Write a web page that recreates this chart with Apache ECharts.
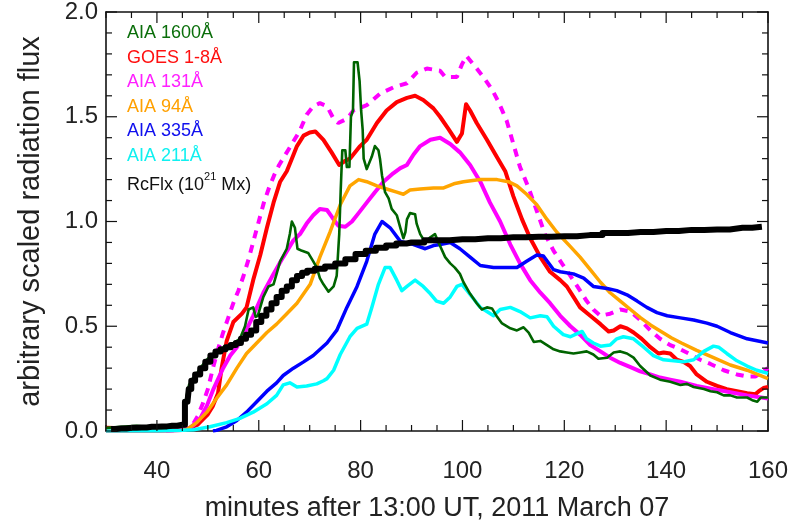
<!DOCTYPE html>
<html>
<head>
<meta charset="utf-8">
<script src="https://cdn.jsdelivr.net/npm/echarts@6/dist/echarts.min.js"></script>
<style>
  html, body { margin: 0; padding: 0; background: #fff; }
  #chart { width: 791px; height: 527px; }
</style>
</head>
<body>
<div id="chart"></div>
<script>
// Light curves of the 2011 March 07 flare, minutes after 13:00 UT vs scaled flux.

const xRange = [30, 160];
const xMajorStart = 40;      // first labelled minute
const xMajorStep = 20;
const xMinorStep = 5;
const yRange = [0, 2];

// frame tick positions (minutes / flux units)
const xTickValues = [30, 35, 40, 45, 50, 55, 60, 65, 70, 75, 80, 85, 90, 95, 100, 105, 110, 115, 120, 125, 130, 135, 140, 145, 150, 155, 160];
const xMajorTicks = [40, 60, 80, 100, 120, 140, 160];
const yTickValues = [0, 0.1, 0.2, 0.3, 0.4, 0.5, 0.6, 0.7, 0.8, 0.9, 1.0, 1.1, 1.2, 1.3, 1.4, 1.5, 1.6, 1.7, 1.8, 1.9, 2.0];
const yMajorTicks = [0, 0.5, 1.0, 1.5, 2.0];

// AIA 1600 Å (stepped, spiky)
const aia1600 = [[30,0.015],[33,0.02],[36,0.025],[38,0.02],[41,0.015],[44,0.02],[45.2,0.025],[45.6,0.14],[46.3,0.22],[47,0.25],[47.5,0.26],[48.5,0.30],[49.8,0.34],[51.1,0.37],[52.1,0.38],[53.7,0.40],[55,0.42],[56.3,0.44],[56.8,0.47],[57.3,0.50],[58,0.58],[58.9,0.59],[59.4,0.545],[59.8,0.55],[60.9,0.64],[61.9,0.69],[62.9,0.70],[63.5,0.75],[64.2,0.81],[65.5,0.87],[66.1,0.94],[66.5,1.0],[67.1,0.97],[67.6,0.87],[68.5,0.86],[69.7,0.85],[70.7,0.81],[71.4,0.78],[72,0.73],[72.7,0.70],[73.7,0.665],[74.7,0.69],[75.3,0.74],[75.8,0.94],[76.1,1.155],[76.4,1.34],[77,1.34],[77.3,1.26],[77.8,1.26],[78.1,1.50],[78.5,1.53],[78.7,1.76],[79.4,1.76],[79.8,1.67],[80.1,1.53],[80.4,1.44],[80.6,1.30],[81.2,1.25],[82.2,1.31],[82.8,1.36],[83.5,1.34],[83.8,1.30],[84.2,1.22],[84.8,1.14],[85.5,1.11],[86.1,1.06],[87.1,1.03],[87.8,0.97],[88.4,0.92],[88.8,0.95],[89.1,1.01],[89.7,1.04],[90.7,1.035],[91,0.99],[91.7,0.94],[92.7,0.90],[93.7,0.925],[94.6,0.94],[95.3,0.90],[96.6,0.83],[97.6,0.80],[98.5,0.78],[99.5,0.75],[100.2,0.71],[101.5,0.655],[102.8,0.61],[103.8,0.58],[104.8,0.59],[105.8,0.585],[106.8,0.545],[107.7,0.515],[109.4,0.49],[110.7,0.48],[112,0.495],[113,0.47],[114,0.425],[115.3,0.43],[116.6,0.41],[117.9,0.39],[119.2,0.38],[120.5,0.375],[121.8,0.37],[123.1,0.375],[124.4,0.38],[125.7,0.365],[126.7,0.345],[128.4,0.35],[129.7,0.375],[131,0.38],[132.3,0.37],[133.6,0.35],[134.9,0.31],[136.9,0.265],[138.8,0.245],[140.8,0.235],[142.8,0.22],[144.1,0.225],[145.4,0.21],[147.4,0.20],[148.7,0.19],[150,0.185],[151.3,0.17],[152.6,0.17],[153.9,0.16],[155.9,0.16],[156.9,0.147],[157.9,0.14],[158.6,0.16],[160,0.16]];

// GOES 1-8 Å
const goes18 = [[30,0.015],[35,0.012],[40,0.01],[44,0.008],[46,0.01],[48,0.03],[50,0.08],[51,0.12],[52,0.18],[52.7,0.3],[53.7,0.43],[55,0.52],[56.7,0.56],[57.6,0.59],[58.9,0.72],[60.3,0.84],[61.6,0.97],[62.9,1.09],[64.2,1.19],[65.5,1.24],[66.5,1.30],[67.5,1.36],[68.8,1.41],[70,1.425],[71.1,1.43],[72.7,1.39],[74.3,1.33],[75.8,1.27],[77,1.29],[77.9,1.30],[79.9,1.36],[81.2,1.39],[83.2,1.47],[85.1,1.53],[87.1,1.57],[89.1,1.59],[90.7,1.60],[92.3,1.58],[94.3,1.54],[95.6,1.50],[97.3,1.44],[98.9,1.38],[99.9,1.42],[100.7,1.56],[101.5,1.53],[102.8,1.47],[104.8,1.39],[106.7,1.31],[108.4,1.24],[110,1.12],[111.7,1.01],[113.3,0.92],[115.3,0.83],[117.2,0.76],[119.2,0.72],[120.5,0.69],[121.8,0.64],[123.1,0.59],[125.1,0.55],[127.1,0.51],[128.7,0.475],[129.7,0.48],[131,0.50],[132.3,0.49],[133.6,0.47],[135.2,0.44],[136.9,0.40],[138.5,0.37],[139.5,0.375],[140.8,0.37],[142.1,0.34],[143.4,0.33],[144.7,0.31],[146,0.27],[148,0.235],[150,0.215],[151.9,0.20],[153.9,0.19],[155.9,0.18],[157.5,0.175],[158.2,0.19],[159.1,0.205],[160,0.21]];

// AIA 131 Å
const aia131 = [[30,0.0],[40,0.0],[45,0.005],[46.5,0.015],[47.5,0.035],[48.5,0.06],[49.8,0.12],[51.1,0.2],[53,0.3],[54.4,0.36],[55.7,0.40],[57.3,0.47],[58.9,0.55],[60.9,0.66],[62.9,0.75],[64.8,0.83],[66.8,0.91],[68.1,0.94],[69.4,0.99],[70.7,1.03],[72,1.06],[73.4,1.055],[74.7,1.01],[75.6,0.98],[77,0.975],[78.3,1.0],[79.6,1.04],[81.2,1.09],[82.8,1.14],[84.5,1.19],[86.4,1.23],[87.8,1.255],[89.1,1.27],[90.4,1.32],[91.7,1.36],[93.7,1.39],[95.6,1.40],[97.6,1.37],[99.5,1.33],[101.5,1.27],[103.5,1.19],[105.4,1.09],[107.4,1.0],[109.4,0.89],[111.3,0.80],[113.3,0.72],[115.3,0.66],[117.2,0.61],[119.2,0.55],[121.2,0.50],[123.1,0.46],[125.1,0.41],[127.1,0.38],[129,0.35],[131,0.325],[133,0.305],[134.9,0.285],[136.9,0.27],[138.8,0.255],[140.8,0.245],[142.8,0.235],[146,0.215],[149.3,0.20],[152.6,0.185],[155.9,0.17],[160,0.155]];

// AIA 131 Å, second scaling (dashed)
const aia131b = [[30,0.0],[40,0.0],[45,0.005],[46,0.01],[47,0.03],[48,0.07],[49,0.13],[50,0.2],[51,0.3],[52,0.39],[53,0.47],[54,0.54],[55,0.61],[56,0.67],[57,0.74],[58,0.82],[59,0.91],[60,1.0],[61,1.09],[62,1.16],[63,1.22],[64,1.27],[65,1.31],[66,1.35],[67,1.39],[68,1.43],[69.4,1.51],[70.7,1.55],[72,1.565],[73.4,1.55],[74.7,1.49],[75.6,1.47],[77.3,1.49],[78.6,1.53],[81.2,1.555],[83.8,1.61],[86.4,1.64],[89.1,1.66],[91,1.71],[93,1.73],[95.6,1.72],[96.6,1.69],[98.9,1.69],[99.9,1.75],[100.8,1.79],[102.8,1.73],[104.1,1.69],[105.8,1.63],[107.1,1.57],[108.7,1.48],[110,1.37],[111.3,1.26],[113,1.16],[114.6,1.05],[116.2,0.94],[117.9,0.86],[119.8,0.79],[121.2,0.74],[123.1,0.67],[124.4,0.62],[125.7,0.58],[127.1,0.55],[129,0.56],[131,0.58],[133,0.57],[134.9,0.53],[136.9,0.48],[138.8,0.44],[140.8,0.41],[142.8,0.39],[144.4,0.37],[146.7,0.34],[148.7,0.32],[151.3,0.29],[153.9,0.27],[155.9,0.26],[157.5,0.26],[158.8,0.28],[160,0.30]];

// AIA 94 Å
const aia94 = [[30,0.0],[40,0.0],[45,0.004],[45.9,0.008],[47.8,0.04],[49.8,0.09],[51.7,0.155],[53.7,0.22],[55.7,0.30],[57.6,0.37],[59.6,0.42],[61.6,0.47],[63.5,0.51],[65.5,0.56],[67.5,0.61],[68.8,0.655],[70.1,0.70],[72,0.83],[74,0.95],[76,1.08],[77.9,1.17],[79.6,1.20],[81.2,1.19],[83.2,1.17],[85.1,1.155],[87.1,1.14],[88.4,1.13],[89.7,1.15],[91.7,1.155],[94.3,1.16],[96.3,1.16],[98.3,1.18],[100.2,1.19],[103.5,1.20],[106.8,1.20],[109,1.19],[110.7,1.17],[112.6,1.13],[114.6,1.08],[116.6,1.01],[118.5,0.95],[121.2,0.88],[123.1,0.83],[125.1,0.77],[127.1,0.71],[129,0.66],[131,0.62],[133,0.58],[135,0.54],[137,0.505],[139,0.475],[141,0.445],[143,0.42],[146,0.385],[149.3,0.35],[152.6,0.315],[155.9,0.29],[160,0.25]];

// AIA 335 Å
const aia335 = [[51,0.0],[51.7,0.003],[53.7,0.02],[55.7,0.05],[57.6,0.09],[59.6,0.14],[61.6,0.19],[63.5,0.23],[64.8,0.265],[66.8,0.30],[68.8,0.33],[70.7,0.36],[73.4,0.42],[75.3,0.48],[77.3,0.59],[79.3,0.69],[81.2,0.81],[82.8,0.94],[84.2,1.0],[85.8,0.97],[87.8,0.905],[90.4,0.89],[92.7,0.87],[94.3,0.885],[95.6,0.89],[97.6,0.90],[99.5,0.87],[101.5,0.83],[103.5,0.79],[106.1,0.78],[108.7,0.78],[110.7,0.78],[112.6,0.81],[114.6,0.84],[115.9,0.835],[117.9,0.77],[119.2,0.76],[121.8,0.75],[123.8,0.73],[125.7,0.69],[128.4,0.68],[130.3,0.67],[132.3,0.65],[134.3,0.62],[136.2,0.59],[138.2,0.565],[140.2,0.55],[142.8,0.54],[145.4,0.53],[148,0.515],[150,0.50],[152.6,0.47],[155.9,0.44],[160,0.42]];

// AIA 211 Å
const aia211 = [[30,0.0],[40,0.0],[45,0.003],[47.2,0.006],[50.4,0.02],[53.7,0.04],[56.3,0.06],[58.9,0.09],[61.6,0.13],[63.5,0.17],[64.8,0.22],[66.1,0.23],[67.5,0.21],[69.4,0.215],[71.4,0.225],[72.7,0.24],[73.4,0.25],[74.7,0.29],[76,0.365],[77.9,0.45],[79.3,0.49],[81.2,0.51],[82.2,0.59],[83.5,0.70],[84.8,0.78],[85.8,0.78],[87.1,0.72],[88.1,0.67],[89.1,0.69],[90.7,0.72],[92.3,0.69],[93.7,0.655],[94.9,0.62],[96.3,0.61],[97.6,0.64],[98.9,0.69],[99.9,0.70],[100.9,0.67],[102.2,0.63],[103.5,0.59],[104.8,0.57],[106.1,0.55],[107.4,0.58],[109.4,0.59],[111.3,0.57],[113.3,0.54],[115.3,0.55],[116.6,0.545],[117.9,0.50],[119.8,0.46],[121.2,0.45],[122.5,0.465],[123.5,0.475],[124.4,0.44],[125.7,0.42],[127.1,0.405],[129,0.41],[130.3,0.44],[131.6,0.45],[133.6,0.44],[135.6,0.40],[137.5,0.36],[139.5,0.34],[141.5,0.335],[143.4,0.33],[145.4,0.34],[147.4,0.38],[149.3,0.405],[150.3,0.40],[151.9,0.37],[153.9,0.335],[155.9,0.31],[157.8,0.29],[160,0.275]];

// Reconnection flux, 10^21 Mx (stepped)
const rcFlx = [[31,0.01],[33,0.012],[35,0.015],[37,0.017],[39,0.02],[41,0.022],[43,0.025],[45,0.03],[46,0.14],[46.5,0.2],[47,0.24],[48,0.27],[49,0.3],[50,0.33],[51,0.36],[52,0.38],[53,0.39],[54,0.40],[55,0.41],[56,0.42],[57,0.44],[58,0.46],[59,0.48],[60,0.52],[61,0.55],[62,0.58],[63,0.61],[64,0.64],[65,0.67],[66,0.69],[67,0.72],[68,0.74],[69,0.755],[70,0.765],[72,0.775],[74,0.785],[76,0.80],[78,0.82],[80,0.845],[82,0.86],[84,0.875],[86,0.885],[88,0.895],[90,0.90],[95,0.91],[100,0.915],[105,0.92],[110,0.925],[115,0.927],[120,0.93],[125,0.935],[130,0.945],[135,0.95],[140,0.955],[145,0.96],[150,0.962],[155,0.97],[158.8,0.975]];

const legendNames = ['AIA 1600Å', 'GOES 1-8Å', 'AIA 131Å', 'AIA 94Å', 'AIA 335Å', 'AIA 211Å', 'RcFlx'];
const legendColors = ['#0a6e0a', '#ff1010', '#ff20ff', '#ffa000', '#1010ee', '#10f0f0', '#111111'];

const FONT = '"Liberation Sans", Arial, Helvetica, sans-serif';
const AXIS_COLOR = '#111111';
const W = 791, H = 527;
const plot = { left: 106, right: 23, top: 7, bottom: 94 };
// the labelled 20-minute axis lives in a second grid that starts at minute 40
const plotWidth = W - plot.left - plot.right;
const majorLeft = plot.left + plotWidth * (xMajorStart - xRange[0]) / (xRange[1] - xRange[0]);

const chart = echarts.init(document.getElementById('chart'));

function lineSeries(name, data, color, width, extra) {
  return Object.assign({
    name: name,
    type: 'line',
    data: data,
    showSymbol: false,
    symbol: 'none',
    clip: true,
    lineStyle: { color: color, width: width, join: 'round' },
    emphasis: { disabled: true },
    xAxisIndex: 0,
    yAxisIndex: 0
  }, extra || {});
}

// inward tick marks on all four sides of the frame, placed through the axis scales
const tickStyle = { stroke: AXIS_COLOR, lineWidth: 1.2 };
function tickLine(x1, y1, x2, y2) {
  return { type: 'line', shape: { x1: x1, y1: y1, x2: x2, y2: y2 }, style: tickStyle };
}
const xTickSeries = {
  type: 'custom', name: 'x ticks', xAxisIndex: 0, yAxisIndex: 0, clip: false, silent: true, z: 20,
  encode: { x: 0, y: 1 },
  data: xTickValues.map(function (t) { return [t, yRange[0], xMajorTicks.indexOf(t) >= 0 ? 1 : 0]; }),
  renderItem: function (params, api) {
    const t = api.value(0);
    const len = api.value(2) === 1 ? 11 : 6;
    const pb = api.coord([t, yRange[0]]);
    const pt = api.coord([t, yRange[1]]);
    return { type: 'group', children: [
      tickLine(pb[0], pb[1], pb[0], pb[1] - len),
      tickLine(pt[0], pt[1], pt[0], pt[1] + len)
    ] };
  }
};
const yTickSeries = {
  type: 'custom', name: 'y ticks', xAxisIndex: 0, yAxisIndex: 0, clip: false, silent: true, z: 20,
  encode: { x: 0, y: 1 },
  data: yTickValues.map(function (v) { return [xRange[0], v, yMajorTicks.indexOf(v) >= 0 ? 1 : 0]; }),
  renderItem: function (params, api) {
    const v = api.value(1);
    const len = api.value(2) === 1 ? 11 : 6;
    const pl = api.coord([xRange[0], v]);
    const pr = api.coord([xRange[1], v]);
    return { type: 'group', children: [
      tickLine(pl[0], pl[1], pl[0] + len, pl[1]),
      tickLine(pr[0], pr[1], pr[0] - len, pr[1])
    ] };
  }
};

// first axis of a grid goes to the bottom/left, the second to the top/right
function minorXAxis() {
  return {
    type: 'value', min: xRange[0], max: xRange[1], interval: xMinorStep,
    axisLine: { show: true, onZero: false, lineStyle: { color: AXIS_COLOR, width: 1.6 } },
    axisTick: { show: false },
    axisLabel: { show: false }, splitLine: { show: false }
  };
}
function majorXAxis(withLabels) {
  return {
    type: 'value', gridIndex: 1, min: xMajorStart, max: xRange[1], interval: xMajorStep,
    axisLine: { show: false, onZero: false },
    axisTick: { show: false },
    axisLabel: withLabels
      ? { show: true, fontFamily: FONT, fontSize: 24, color: '#222', margin: 26 }
      : { show: false },
    splitLine: { show: false }
  };
}
function yFrameAxis(withLabels) {
  return {
    type: 'value', min: yRange[0], max: yRange[1], interval: 0.5,
    axisLine: { show: true, onZero: false, lineStyle: { color: AXIS_COLOR, width: 1.6 } },
    axisTick: { show: false },
    axisLabel: withLabels
      ? { show: true, fontFamily: FONT, fontSize: 24, color: '#222', margin: 8, formatter: function (v) { return v.toFixed(1); } }
      : { show: false },
    splitLine: { show: false }
  };
}

const xBottomMinor = minorXAxis();
xBottomMinor.name = 'minutes after 13:00 UT, 2011 March 07';
xBottomMinor.nameLocation = 'middle';
xBottomMinor.nameGap = 64;
xBottomMinor.nameTextStyle = { fontFamily: FONT, fontSize: 27, color: '#222' };

const yLeft = yFrameAxis(true);
yLeft.name = 'arbitrary scaled radiation flux';
yLeft.nameLocation = 'middle';
yLeft.nameGap = 61;
yLeft.nameRotate = 90;
yLeft.nameTextStyle = { fontFamily: FONT, fontSize: 29, color: '#222' };

const legendGraphics = legendNames.map(function (n, i) {
  const isFlux = i === legendNames.length - 1;
  const st = {
    text: isFlux ? '{a|RcFlx (10}{s|21}{a| Mx)}' : n,
    fill: legendColors[i],
    font: '18px ' + FONT
  };
  if (isFlux) {
    st.rich = {
      a: { fontSize: 18, fontFamily: FONT, fill: legendColors[i], padding: [4, 0, 0, 0] },
      s: { fontSize: 11, fontFamily: FONT, fill: legendColors[i], verticalAlign: 'top', padding: [0, 0, 8, 0] }
    };
  }
  return { type: 'text', left: 127, top: 24 + i * 24.6, style: st, z: 100 };
});

chart.setOption({
  backgroundColor: '#ffffff',
  animation: false,
  grid: [
    { left: plot.left, right: plot.right, top: plot.top, bottom: plot.bottom },
    { left: majorLeft, right: plot.right, top: plot.top, bottom: plot.bottom }
  ],
  xAxis: [xBottomMinor, minorXAxis(), majorXAxis(true), majorXAxis(false)],
  yAxis: [
    yLeft,
    yFrameAxis(false),
    { type: 'value', gridIndex: 1, min: yRange[0], max: yRange[1], show: false }
  ],
  series: [
    lineSeries('GOES 1-8Å', goes18, '#ff0000', 4),
    lineSeries('AIA 131Å', aia131, '#ff00ff', 4),
    lineSeries('AIA 131Å dashed', aia131b, '#ff00ff', 4, { lineStyle: { color: '#ff00ff', width: 4, type: [8, 7] } }),
    lineSeries('AIA 94Å', aia94, '#ffa500', 3.5),
    lineSeries('AIA 335Å', aia335, '#0000ff', 3.5),
    lineSeries('AIA 211Å', aia211, '#00ffff', 3.5),
    lineSeries('AIA 1600Å', aia1600, '#006400', 2.6),
    lineSeries('RcFlx', rcFlx, '#000000', 6, { step: 'middle' }),
    xTickSeries,
    yTickSeries
  ],
  graphic: legendGraphics
});
</script>
</body>
</html>
